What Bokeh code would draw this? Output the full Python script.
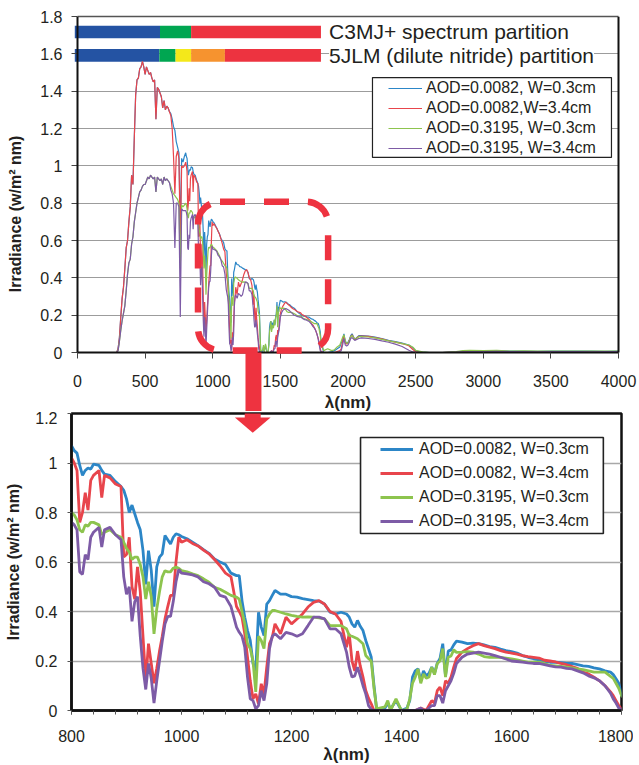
from bokeh.plotting import figure
from bokeh.models import (Range1d, FixedTicker, NumeralTickFormatter, LinearAxis,
                          Legend, LegendItem, BoxAnnotation, PolyAnnotation, Label,
                          ColumnDataSource, SingleIntervalTicker)
from bokeh.layouts import column
from bokeh.embed import file_html
from bokeh.resources import INLINE

# ---------------- data ----------------
wl_a = [280, 290, 300, 310, 320, 330, 340, 350, 360, 370,
        380, 390, 400, 410, 420, 430, 440, 450, 460, 470,
        480, 490, 500, 510, 520, 530, 540, 550, 560, 570,
        580, 590, 600, 610, 620, 630, 640, 650, 660, 670,
        680, 690, 700, 710, 720, 730, 740, 750, 760, 770,
        780, 790]
blue_a = [0, 0, 0.02, 0.08, 0.19, 0.29, 0.35, 0.45, 0.56, 0.60,
          0.70, 0.78, 0.95, 0.90, 1.15, 1.38, 1.46, 1.47, 1.52, 1.53,
          1.56, 1.53, 1.49, 1.53, 1.51, 1.49, 1.50, 1.47, 1.45, 1.46,
          1.25, 1.42, 1.41, 1.39, 1.37, 1.31, 1.35, 1.30, 1.32, 1.31,
          1.29, 1.28, 1.25, 1.21, 1.19, 1.13, 1.10, 1.07, 0.65, 1.04,
          1.02, 1.05]
red_a = [0, 0, 0.02, 0.08, 0.19, 0.29, 0.35, 0.45, 0.56, 0.60,
         0.70, 0.78, 0.95, 0.90, 1.15, 1.38, 1.46, 1.47, 1.52, 1.53,
         1.56, 1.53, 1.49, 1.53, 1.51, 1.49, 1.50, 1.47, 1.45, 1.46,
         1.25, 1.42, 1.41, 1.39, 1.37, 1.31, 1.35, 1.30, 1.32, 1.31,
         1.29, 1.27, 1.20, 1.05, 0.85, 1.05, 1.08, 1.04, 0.58, 1.00,
         0.99, 1.00]
green_a = [0, 0, 0.01, 0.06, 0.12, 0.17, 0.21, 0.25, 0.33, 0.42,
           0.48, 0.50, 0.58, 0.62, 0.70, 0.75, 0.80, 0.83, 0.86, 0.87,
           0.89, 0.90, 0.90, 0.92, 0.94, 0.93, 0.95, 0.94, 0.93, 0.94,
           0.86, 0.94, 0.93, 0.92, 0.93, 0.90, 0.94, 0.92, 0.93, 0.92,
           0.91, 0.89, 0.87, 0.85, 0.84, 0.83, 0.82, 0.80, 0.45, 0.79,
           0.78, 0.79]
purple_a = [0, 0, 0.01, 0.06, 0.12, 0.17, 0.21, 0.25, 0.33, 0.42,
            0.48, 0.50, 0.58, 0.62, 0.70, 0.75, 0.80, 0.83, 0.86, 0.87,
            0.89, 0.90, 0.90, 0.92, 0.94, 0.93, 0.95, 0.94, 0.93, 0.94,
            0.86, 0.94, 0.93, 0.92, 0.93, 0.90, 0.94, 0.92, 0.93, 0.92,
            0.91, 0.87, 0.85, 0.80, 0.56, 0.80, 0.80, 0.78, 0.19, 0.77,
            0.76, 0.76]

wl_b = [800, 805, 810, 815, 820, 825, 830, 835, 840,
        850, 855, 860,
        870, 880, 890, 895,
        900, 905, 910, 915, 920, 925, 930, 935, 940, 945, 950, 955, 960, 965, 970, 975, 980, 985, 990, 995,
        1000, 1010, 1020, 1030, 1040, 1050, 1060, 1070, 1080, 1090, 1100,
        1105, 1110, 1115, 1120, 1125, 1130, 1135, 1140, 1145, 1150, 1155, 1160, 1165,
        1170, 1180, 1190, 1200, 1210, 1220, 1230, 1240, 1250, 1260, 1270, 1280, 1290]
blue_b = [1.07, 1.05, 1.04, 0.99, 0.95, 0.97, 0.98, 0.975, 0.995,
          0.99, 0.97, 0.955,
          0.95, 0.925, 0.905, 0.89,
          0.855, 0.80, 0.83, 0.795, 0.76, 0.73, 0.646, 0.51, 0.646, 0.566, 0.42, 0.58, 0.62, 0.633, 0.707, 0.69, 0.673, 0.70, 0.714, 0.71,
          0.703, 0.694, 0.68, 0.666, 0.65, 0.635, 0.612, 0.60, 0.59, 0.555, 0.545,
          0.545, 0.444, 0.377, 0.323, 0.283, 0.19, 0.16, 0.397, 0.337, 0.303, 0.43, 0.444, 0.465,
          0.485, 0.47, 0.47, 0.46, 0.458, 0.452, 0.448, 0.444, 0.442, 0.43, 0.397, 0.39, 0.397]
red_b = [1.02, 1.00, 0.97, 0.76, 0.80, 0.88, 0.81, 0.93, 0.95,
         0.97, 0.86, 0.95,
         0.94, 0.915, 0.905, 0.62,
         0.63, 0.70, 0.50, 0.45, 0.58, 0.48, 0.30, 0.12, 0.27, 0.19, 0.11, 0.17, 0.24, 0.30, 0.37, 0.42, 0.465, 0.465, 0.60, 0.70,
         0.68, 0.69, 0.675, 0.665, 0.648, 0.633, 0.61, 0.585, 0.555, 0.54, 0.42,
         0.40, 0.377, 0.31, 0.215, 0.12, 0.047, 0.067, 0.027, 0.108, 0.067, 0.175, 0.27, 0.296,
         0.35, 0.31, 0.377, 0.35, 0.37, 0.39, 0.418, 0.437, 0.444, 0.43, 0.40, 0.39, 0.36]
green_b = [0.80, 0.79, 0.77, 0.73, 0.72, 0.75, 0.745, 0.76, 0.76,
           0.75, 0.71, 0.72,
           0.73, 0.71, 0.70, 0.68,
           0.655, 0.64, 0.61, 0.62, 0.62, 0.59, 0.54, 0.45, 0.52, 0.46, 0.31, 0.41, 0.48, 0.54, 0.565, 0.56, 0.56, 0.575, 0.58, 0.575,
           0.565, 0.56, 0.552, 0.545, 0.532, 0.518, 0.498, 0.49, 0.478, 0.465, 0.458,
           0.45, 0.40, 0.35, 0.27, 0.25, 0.20, 0.075, 0.30, 0.283, 0.25, 0.37, 0.39, 0.404,
           0.404, 0.397, 0.39, 0.384, 0.38, 0.377, 0.378, 0.377, 0.374, 0.37, 0.343, 0.343, 0.343]
purple_b = [0.76, 0.75, 0.73, 0.56, 0.55, 0.63, 0.61, 0.70, 0.72,
            0.74, 0.66, 0.73,
            0.74, 0.71, 0.69, 0.54,
            0.47, 0.50, 0.36, 0.44, 0.46, 0.30, 0.17, 0.085, 0.19, 0.13, 0.03, 0.12, 0.20, 0.28, 0.35, 0.38, 0.38, 0.44, 0.52, 0.57,
            0.555, 0.552, 0.548, 0.54, 0.52, 0.512, 0.498, 0.465, 0.458, 0.42, 0.337,
            0.316, 0.30, 0.256, 0.135, 0.047, 0.04, 0.007, 0.02, 0.08, 0.04, 0.108, 0.25, 0.30,
            0.31, 0.29, 0.316, 0.31, 0.30, 0.31, 0.343, 0.377, 0.377, 0.37, 0.33, 0.33, 0.31]

wl_c = [1300, 1305, 1310, 1315, 1320, 1325, 1330, 1335, 1340, 1345, 1350, 1355, 1360,
        1370, 1375, 1380, 1390, 1400, 1410,
        1415, 1420, 1425, 1430, 1435, 1440, 1445, 1450, 1455, 1460, 1465, 1470, 1475, 1480, 1485, 1490, 1495,
        1500, 1510, 1520, 1530, 1540, 1550, 1560, 1570, 1580, 1590, 1600, 1610, 1620, 1630, 1640,
        1650, 1660, 1670, 1680, 1690, 1700, 1710, 1720, 1730, 1740, 1750, 1760, 1770, 1780,
        1785, 1790, 1795, 1800]
blue_c = [0.39, 0.377, 0.35, 0.337, 0.364, 0.34, 0.323, 0.283, 0.25, 0.215, 0.10, 0.0, 0.0,
          0.01, 0.03, 0.005, 0.04, 0.0, 0.01,
          0.04, 0.135, 0.16, 0.168, 0.12, 0.16, 0.14, 0.15, 0.175, 0.15, 0.19, 0.21, 0.27, 0.14, 0.24, 0.245, 0.265,
          0.28, 0.276, 0.27, 0.272, 0.27, 0.265, 0.258, 0.255, 0.248, 0.242, 0.238, 0.232, 0.222, 0.215, 0.209,
          0.205, 0.198, 0.195, 0.195, 0.193, 0.19, 0.19, 0.185, 0.18, 0.178, 0.172, 0.168, 0.16, 0.155,
          0.145, 0.128, 0.11, 0.065]
red_c = [0.256, 0.31, 0.20, 0.16, 0.24, 0.18, 0.135, 0.081, 0.05, 0.027, 0.0, 0.0, 0.0,
         0.0, 0.0, 0.0, 0.0, 0.0, 0.0,
         0.0, 0.0, 0.0, 0.005, 0.01, 0.005, 0.0, 0.02, 0.04, 0.03, 0.08, 0.094, 0.06, 0.12, 0.11, 0.135, 0.175,
         0.21, 0.236, 0.25, 0.262, 0.27, 0.262, 0.256, 0.25, 0.242, 0.236, 0.232, 0.228, 0.222, 0.218, 0.215,
         0.212, 0.203, 0.2, 0.196, 0.19, 0.185, 0.178, 0.17, 0.155, 0.148, 0.135, 0.12, 0.1, 0.075,
         0.06, 0.04, 0.02, 0.007]
green_c = [0.33, 0.303, 0.30, 0.295, 0.29, 0.28, 0.27, 0.222, 0.21, 0.2, 0.09, 0.005, 0.01,
           0.015, 0.04, 0.0, 0.047, 0.0, 0.005,
           0.047, 0.11, 0.135, 0.168, 0.11, 0.148, 0.13, 0.135, 0.175, 0.145, 0.19, 0.2, 0.25, 0.135, 0.215, 0.22, 0.245,
           0.235, 0.236, 0.238, 0.236, 0.228, 0.218, 0.215, 0.215, 0.215, 0.212, 0.209, 0.205, 0.2, 0.195, 0.195,
           0.195, 0.19, 0.182, 0.18, 0.178, 0.175, 0.172, 0.168, 0.165, 0.16, 0.155, 0.155, 0.155, 0.138,
           0.13, 0.11, 0.09, 0.06]
purple_c = [0.236, 0.175, 0.135, 0.14, 0.175, 0.14, 0.10, 0.067, 0.02, 0.005, 0.0, 0.0, 0.0,
            0.0, 0.0, 0.0, 0.0, 0.0, 0.0,
            0.0, 0.0, 0.0, 0.005, 0.01, 0.0, 0.0, 0.01, 0.02, 0.02, 0.06, 0.06, 0.03, 0.08, 0.10, 0.12, 0.15,
            0.19, 0.215, 0.228, 0.232, 0.236, 0.232, 0.228, 0.222, 0.215, 0.208, 0.2, 0.198, 0.195, 0.192, 0.19,
            0.19, 0.185, 0.18, 0.176, 0.175, 0.17, 0.168, 0.16, 0.152, 0.14, 0.132, 0.12, 0.1, 0.07,
            0.047, 0.03, 0.01, 0.005]

wl_d = [1820, 1850, 1880, 1900, 1920, 1940, 1950, 1960, 1970, 1980,
        1990, 2000, 2010, 2020, 2030, 2050, 2080, 2100, 2150, 2200,
        2250, 2300, 2350, 2400, 2450, 2480, 2500, 2550, 2600, 2700,
        2800, 2850, 2900, 3000, 3100, 3200, 3300, 3400, 3500, 3600,
        3700, 3800, 3900, 4000]
blue_d = [0.0, 0.0, 0.005, 0.01, 0.02, 0.03, 0.05, 0.07, 0.10, 0.06,
          0.05, 0.055, 0.07, 0.09, 0.10, 0.07, 0.09, 0.09, 0.088, 0.082,
          0.075, 0.065, 0.058, 0.05, 0.04, 0.025, 0.008, 0.002, 0.0, 0.0,
          0.003, 0.006, 0.008, 0.008, 0.01, 0.007, 0.008, 0.006, 0.008, 0.007,
          0.008, 0.007, 0.006, 0.007]
red_d = [0.0, 0.0, 0.0, 0.0, 0.005, 0.01, 0.02, 0.06, 0.09, 0.05,
         0.045, 0.05, 0.065, 0.085, 0.095, 0.068, 0.087, 0.088, 0.086, 0.08,
         0.073, 0.063, 0.056, 0.048, 0.036, 0.016, 0.004, 0.0, 0.0, 0.0,
         0.002, 0.004, 0.005, 0.005, 0.006, 0.005, 0.005, 0.004, 0.005, 0.005,
         0.005, 0.004, 0.004, 0.005]
green_d = [0.01, 0.02, 0.01, 0.015, 0.03, 0.04, 0.06, 0.08, 0.095, 0.06,
           0.05, 0.05, 0.065, 0.085, 0.092, 0.07, 0.085, 0.085, 0.083, 0.078,
           0.07, 0.062, 0.056, 0.048, 0.04, 0.028, 0.012, 0.003, 0.0, 0.0,
           0.005, 0.01, 0.012, 0.01, 0.012, 0.008, 0.009, 0.007, 0.008, 0.008,
           0.008, 0.007, 0.007, 0.008]
purple_d = [0.0, 0.0, 0.0, 0.0, 0.0, 0.005, 0.01, 0.04, 0.075, 0.04,
            0.035, 0.04, 0.055, 0.075, 0.08, 0.065, 0.075, 0.078, 0.075, 0.07,
            0.062, 0.055, 0.045, 0.032, 0.012, 0.003, 0.0, 0.0, 0.0, 0.0,
            0.002, 0.004, 0.005, 0.005, 0.006, 0.005, 0.005, 0.004, 0.005, 0.005,
            0.005, 0.004, 0.005, 0.005]

labels_top = ["AOD=0.0082, W=0.3cm", "AOD=0.0082,W=3.4cm",
              "AOD=0.3195, W=0.3cm", "AOD=0.3195, W=3.4cm"]
labels_bottom = ["AOD=0.0082, W=0.3cm", "AOD=0.0082, W=3.4cm",
                 "AOD=0.3195, W=0.3cm", "AOD=0.3195, W=3.4cm"]

c3mj_edges = [-20, 610, 840, 1800]
c3mj_colors = ["#2453a3", "#00a651", "#ed3340"]
jlm5_edges = [-20, 605, 725, 840, 1090, 1800]
jlm5_colors = ["#2453a3", "#00a651", "#f4e81a", "#f6932f", "#ed3340"]

top_x_ticks = [0, 500, 1000, 1500, 2000, 2500, 3000, 3500, 4000]
top_y_ticks = [0, 0.2, 0.4, 0.6, 0.8, 1.0, 1.2, 1.4, 1.6, 1.8]
bot_y_ticks = [0, 0.2, 0.4, 0.6, 0.8, 1.0, 1.2]

# ---------------- assemble ----------------
wavelength = wl_a + wl_b + wl_c + wl_d
series = {
    "b": blue_a + blue_b + blue_c + blue_d,
    "r": red_a + red_b + red_c + red_d,
    "g": green_a + green_b + green_c + green_d,
    "p": purple_a + purple_b + purple_c + purple_d,
}
for k, v in series.items():
    assert len(v) == len(wavelength), (k, len(v), len(wavelength))
src = ColumnDataSource(dict(wl=wavelength, **series))

FONT = "Liberation Sans"
TXT = "#231f20"
RED = "#ee3340"
line_colors = {"b": "#2c86c7", "r": "#e8454c", "g": "#8dc44e", "p": "#7d5ba6"}
order = ["b", "r", "g", "p"]

# ---------------- top figure ----------------
# frame starts 6px left of lambda=0 so the "0" tick label is not clipped,
# and runs to the right edge of the page so "4000" fits too.
PX_PER_NM = 541 / 4000.0
PX_PER_UNIT = 336 / 1.8
FRAME_LEFT, ZERO_PX, PAGE_W = 70, 76, 639
FW1 = PAGE_W - FRAME_LEFT
FH1 = 395                      # 16 .. 411 px
x_start = -(ZERO_PX - FRAME_LEFT) / PX_PER_NM
p1 = figure(frame_width=FW1, frame_height=FH1,
            x_range=Range1d(x_start, x_start + FW1 / PX_PER_NM),
            y_range=Range1d(1.8 - FH1 / PX_PER_UNIT, 1.8),
            output_backend="svg", toolbar_location=None,
            min_border_left=FRAME_LEFT, min_border_right=0,
            min_border_top=16, min_border_bottom=0)
p1.outline_line_color = None
p1.xgrid.visible = False
gy = p1.ygrid[0]
gy.ticker = FixedTicker(ticks=top_y_ticks[1:-1])
gy.grid_line_color = "#9c9c9c"
gy.grid_line_width = 1.2
try:
    gy.cross_bounds = (0, 4000)
except Exception:
    gy.visible = False
    p1.segment(x0=[0] * 8, x1=[4000] * 8, y0=top_y_ticks[1:-1], y1=top_y_ticks[1:-1],
               line_color="#9c9c9c", line_width=1.2)

xa = p1.xaxis[0]
xa.fixed_location = 0
xa.bounds = (0, 4000)
xa.ticker = FixedTicker(ticks=top_x_ticks)
xa.axis_line_color = "#111111"
xa.axis_line_width = 2
xa.major_tick_out = 6
xa.major_tick_in = 0
xa.minor_tick_out = 0
xa.minor_tick_in = 0
xa.major_tick_line_color = "#444444"
xa.major_label_text_font = FONT
xa.major_label_text_font_size = "16px"
xa.major_label_text_color = TXT
xa.major_label_standoff = 16
xa.axis_label = "λ(nm)"
xa.axis_label_text_font = FONT
xa.axis_label_text_font_size = "17px"
xa.axis_label_text_font_style = "bold"
xa.axis_label_text_color = TXT
xa.axis_label_standoff = 3

# left axis: labels + ticks (ticks drawn inward so they end on the lambda=0 line)
ya = p1.yaxis[0]
ya.bounds = (0, 1.8)
ya.ticker = FixedTicker(ticks=top_y_ticks)
ya.formatter = NumeralTickFormatter(format="0.[0]")
ya.axis_line_color = None
ya.major_tick_out = 0
ya.major_tick_in = ZERO_PX - FRAME_LEFT
ya.minor_tick_out = 0
ya.minor_tick_in = 0
ya.major_tick_line_color = "#444444"
ya.major_label_text_font = FONT
ya.major_label_text_font_size = "16px"
ya.major_label_text_color = TXT
ya.major_label_standoff = 9
ya.axis_label = "Irradiance (w/m² nm)"
ya.axis_label_text_font = FONT
ya.axis_label_text_font_size = "16px"
ya.axis_label_text_font_style = "bold"
ya.axis_label_text_color = TXT
ya.axis_label_standoff = 13

# top border line
p1.add_layout(LinearAxis(ticker=FixedTicker(ticks=[]), bounds=(0, 4000),
                         axis_line_color="#555555", axis_line_width=1.5,
                         major_tick_out=0, major_tick_in=0, minor_tick_out=0, minor_tick_in=0,
                         major_label_text_font_size="0px", major_label_standoff=0), "above")

# vertical axis line at lambda=0 and right border at lambda=4000 (2px wide)
half_w = 1.0 / PX_PER_NM
for xpos, col in ((0, "#111111"), (4000, "#111111")):
    p1.add_layout(BoxAnnotation(left=xpos - half_w, right=xpos + half_w, bottom=0, top=1.8,
                                fill_color=col, fill_alpha=1, line_color=None))

# partition bars
p1.quad(left=c3mj_edges[:-1], right=c3mj_edges[1:], bottom=1.683, top=1.751,
        fill_color=c3mj_colors, line_color=None)
p1.quad(left=jlm5_edges[:-1], right=jlm5_edges[1:], bottom=1.558, top=1.626,
        fill_color=jlm5_colors, line_color=None)

top_renderers = []
for k in order:
    top_renderers.append(p1.line("wl", k, source=src, line_color=line_colors[k], line_width=1.2))

# dashed zoom box and arrow shaft
p1.add_layout(BoxAnnotation(left=891, right=1853, bottom=0.011, top=0.808,
                            fill_color=None, fill_alpha=0, line_color=RED, line_alpha=1,
                            line_width=6.5, line_dash="25 19", border_radius=22))
p1.add_layout(BoxAnnotation(left=1301 - 59, right=1301 + 59, top=0.0, bottom=-0.6,
                            fill_color=RED, fill_alpha=1, line_color=None))

p1.add_layout(Label(x=1860, y=1.718, text="C3MJ+ spectrum partition", text_font=FONT,
                    text_font_size="21px", text_color=TXT, text_baseline="middle",
                    background_fill_color="white"))
p1.add_layout(Label(x=1860, y=1.593, text="5JLM (dilute nitride) partition", text_font=FONT,
                    text_font_size="21px", text_color=TXT, text_baseline="middle",
                    background_fill_color="white"))

# legend box + legend
p1.add_layout(BoxAnnotation(left=2181, right=3948, bottom=1.045, top=1.473,
                            fill_color="white", fill_alpha=1, line_color="#222222",
                            line_alpha=1, line_width=1.2))
leg1 = Legend(items=[LegendItem(label=labels_top[i], renderers=[top_renderers[i]]) for i in range(4)],
              location=(390 - FRAME_LEFT, 253.5), padding=0, spacing=0, margin=0,
              glyph_width=34, glyph_height=20, label_height=20, label_standoff=4,
              label_text_font=FONT, label_text_font_size="16px", label_text_color=TXT,
              border_line_color=None, background_fill_alpha=0)
p1.add_layout(leg1)

# ---------------- bottom figure ----------------
p2 = figure(frame_width=550, frame_height=297,
            x_range=Range1d(800, 1800), y_range=Range1d(0, 1.2),
            output_backend="svg", toolbar_location=None,
            min_border_left=71, min_border_right=12, min_border_top=2, min_border_bottom=0)
p2.outline_line_color = "#111111"
p2.outline_line_width = 2.5
p2.xgrid.visible = False
p2.ygrid.ticker = FixedTicker(ticks=bot_y_ticks[1:-1])
p2.ygrid.grid_line_color = "#a8a8a8"
p2.ygrid.grid_line_width = 1.6

xb = p2.xaxis[0]
xb.ticker = SingleIntervalTicker(interval=200, num_minor_ticks=5)
xb.axis_line_color = "#111111"
xb.axis_line_width = 2.5
xb.major_tick_out = 4
xb.major_tick_in = 0
xb.minor_tick_out = 4
xb.minor_tick_in = 0
xb.major_tick_line_color = "#555555"
xb.minor_tick_line_color = "#555555"
xb.major_label_text_font = FONT
xb.major_label_text_font_size = "16px"
xb.major_label_text_color = TXT
xb.major_label_standoff = 15
xb.axis_label = "λ(nm)"
xb.axis_label_text_font = FONT
xb.axis_label_text_font_size = "17px"
xb.axis_label_text_font_style = "bold"
xb.axis_label_text_color = TXT
xb.axis_label_standoff = 0

yb = p2.yaxis[0]
yb.ticker = FixedTicker(ticks=bot_y_ticks)
yb.formatter = NumeralTickFormatter(format="0.[0]")
yb.axis_line_color = "#111111"
yb.axis_line_width = 2.5
yb.major_tick_out = 4
yb.major_tick_in = 0
yb.minor_tick_out = 0
yb.minor_tick_in = 0
yb.major_tick_line_color = "#555555"
yb.major_label_text_font = FONT
yb.major_label_text_font_size = "16px"
yb.major_label_text_color = TXT
yb.major_label_standoff = 10
yb.axis_label = "Irradiance (w/m² nm)"
yb.axis_label_text_font = FONT
yb.axis_label_text_font_size = "16px"
yb.axis_label_text_font_style = "bold"
yb.axis_label_text_color = TXT
yb.axis_label_standoff = 10

bot_renderers = []
for k in order:
    bot_renderers.append(p2.line("wl", k, source=src, line_color=line_colors[k], line_width=2.8))

# arrow head entering the zoomed chart
p2.add_layout(BoxAnnotation(left=1115, right=1144, bottom=1.18, top=1.3,
                            fill_color=RED, fill_alpha=1, line_color=None))
p2.add_layout(PolyAnnotation(xs=[1097, 1162, 1129.5], ys=[1.184, 1.184, 1.122],
                             fill_color=RED, fill_alpha=1, line_color=None))

p2.add_layout(BoxAnnotation(left=1325.5, right=1767, bottom=0.715, top=1.103,
                            fill_color="white", fill_alpha=1, line_color="#222222",
                            line_alpha=1, line_width=1.6))
leg2 = Legend(items=[LegendItem(label=labels_bottom[i], renderers=[bot_renderers[i]]) for i in range(4)],
              location=(309, 177), padding=0, spacing=0, margin=0,
              glyph_width=33, glyph_height=24, label_height=24, label_standoff=6,
              label_text_font=FONT, label_text_font_size="16px", label_text_color=TXT,
              border_line_color=None, background_fill_alpha=0)
p2.add_layout(leg2)

layout = column(p1, p2, spacing=0)
open("out.html", "w").write(file_html(layout, INLINE, "Irradiance"))
